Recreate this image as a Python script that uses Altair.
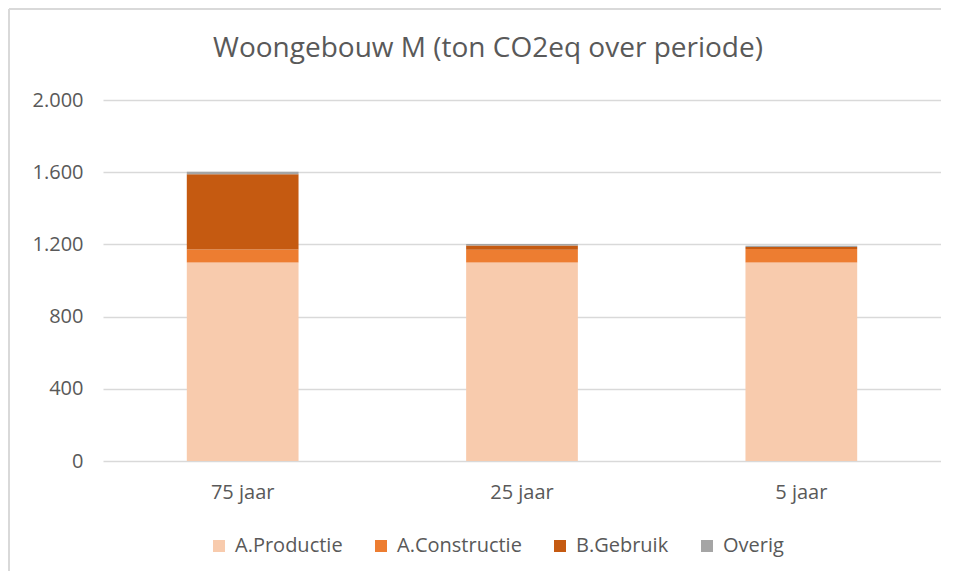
import altair as alt
import pandas as pd

categories = ["75 jaar", "25 jaar", "5 jaar"]
series = ["A.Productie", "A.Constructie", "B.Gebruik", "Overig"]
productie = [1100, 1100, 1100]
constructie = [72, 70, 74]
gebruik = [417, 24, 12]
overig = [13, 8, 7]
colors = ["#F8CBAD", "#ED7D31", "#C55A11", "#A5A5A5"]
title_text = "Woongebouw M (ton CO2eq over periode)"

rows = []
for i, c in enumerate(categories):
    for j, (s, vals) in enumerate(zip(series, [productie, constructie, gebruik, overig])):
        rows.append({"periode": c, "fase": s, "waarde": vals[i], "volgorde": j})
df = pd.DataFrame(rows)

FONT = "Open Sans"
GREY = "#595959"

bars = alt.Chart(df).mark_bar().encode(
    x=alt.X("periode:N", sort=categories, title=None,
            scale=alt.Scale(paddingInner=0.6, paddingOuter=0.3),
            axis=alt.Axis(labelAngle=0, domain=False, ticks=False, labelPadding=21,
                          labelFontSize=20, labelColor=GREY, labelFont=FONT)),
    y=alt.Y("waarde:Q", stack="zero", title=None,
            scale=alt.Scale(domain=[0, 2000]),
            axis=alt.Axis(values=[0, 400, 800, 1200, 1600, 2000], domain=False, ticks=False,
                          labelPadding=20, labelFontSize=20, labelColor=GREY, labelFont=FONT,
                          gridColor="#D9D9D9", gridWidth=1.5,
                          labelExpr="replace(format(datum.value, ',d'), ',', '.')")),
    color=alt.Color("fase:N", sort=series,
                    scale=alt.Scale(domain=series, range=colors),
                    legend=alt.Legend(orient="none", legendX=106, legendY=436, direction="horizontal",
                                      title=None, symbolType="square", symbolSize=144,
                                      symbolStrokeWidth=0, labelFontSize=20, labelColor=GREY,
                                      labelFont=FONT, columnPadding=28, labelOffset=6)),
    order=alt.Order("volgorde:Q"),
)

title = alt.Chart(pd.DataFrame({"t": [title_text]})).mark_text(
    font=FONT, fontSize=28, color=GREY, align="center", baseline="alphabetic"
).encode(text="t:N", x=alt.value(385), y=alt.value(-43))

border = alt.Chart(pd.DataFrame({"a": [0]})).mark_rule(color="#D9D9D9", strokeWidth=2).encode(
    x=alt.value(-94), x2=alt.value(845), y=alt.value(-91)
)
border2 = alt.Chart(pd.DataFrame({"a": [0]})).mark_rule(color="#D9D9D9", strokeWidth=2).encode(
    x=alt.value(-94), y=alt.value(-91), y2=alt.value(480)
)

chart = alt.layer(bars, title, border, border2).properties(
    width=838, height=361,
    autosize=alt.AutoSizeParams(type="none"),
    padding={"left": 95, "top": 92, "right": 0, "bottom": 110},
).configure_view(stroke=None)

chart.save("out.html", embed_options={"renderer": "svg", "actions": False})
